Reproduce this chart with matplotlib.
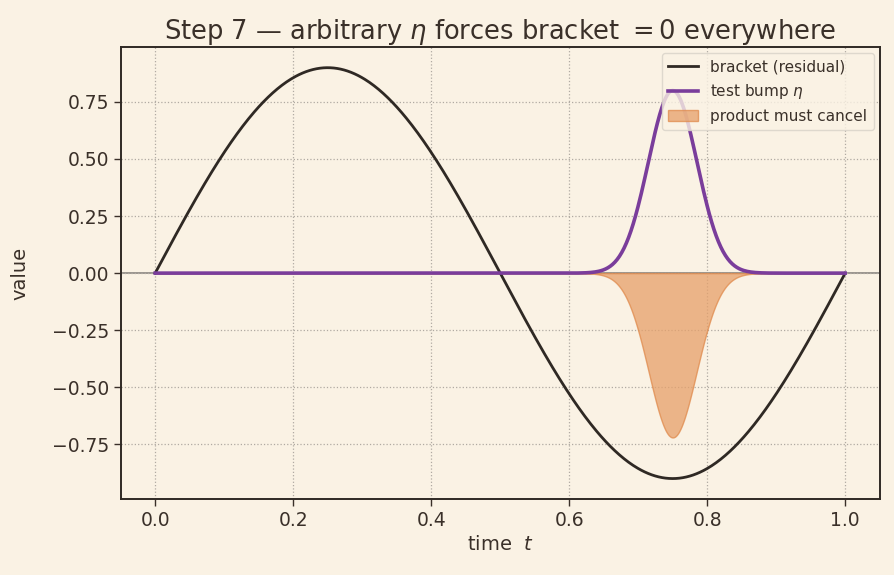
import matplotlib
matplotlib.use("Agg")
import matplotlib.pyplot as plt
import numpy as np

# values
t_start, t_end = 0.0, 1.0
bracket_amp = 0.9        # peak of the residual (sine, one period)
bump_height = 0.8        # peak of the test bump
bump_center = 0.75
bump_width = 0.05        # 1/e half width
x_ticks = [0.0, 0.2, 0.4, 0.6, 0.8, 1.0]
y_ticks = [-0.75, -0.5, -0.25, 0.0, 0.25, 0.5, 0.75]

bg = "#faf2e4"
ink = "#3a3029"

plt.rcParams['font.family'] = ['DejaVu Sans']
plt.rcParams['text.color'] = ink
plt.rcParams['axes.labelcolor'] = ink
plt.rcParams['xtick.color'] = ink
plt.rcParams['ytick.color'] = ink

t = np.linspace(t_start, t_end, 600)
bracket = bracket_amp * np.sin(2 * np.pi * t)
eta = bump_height * np.exp(-((t - bump_center) / bump_width) ** 2)
product = bracket * eta

fig, ax = plt.subplots(figsize=(8.94, 5.75), dpi=100)
fig.patch.set_facecolor(bg)
ax.set_facecolor(bg)

ax.axhline(0, color="#8a8580", lw=1.2, zorder=1)
ax.plot(t, bracket, color="#2f2924", lw=2, label="bracket (residual)", zorder=3)
ax.plot(t, eta, color="#7a3d9b", lw=2.6, label=r"test bump $\eta$", zorder=4)
ax.fill_between(t, 0, product, color="#e6a06a", alpha=0.75, edgecolor="#e08a4c",
                lw=1, label="product must cancel", zorder=2)

ax.set_xticks(x_ticks)
ax.set_yticks(y_ticks)
ax.tick_params(labelsize=13.5, length=5, width=1)
ax.grid(True, ls=":", color="#b0aaa2", lw=0.9)
for s in ax.spines.values():
    s.set_color("#2f2924")
    s.set_linewidth(1.4)

ax.set_xlabel(r"time  $t$", fontsize=14)
ax.set_ylabel("value", fontsize=14, labelpad=16)
ax.set_title(r"Step 7 — arbitrary $\eta$ forces bracket $=0$ everywhere", fontsize=18.5)

leg = ax.legend(loc="upper right", fontsize=11, facecolor=bg, framealpha=0.8,
                edgecolor="#d8d2c8", borderaxespad=0.4)

fig.subplots_adjust(left=0.135, right=0.984, top=0.918, bottom=0.132)
fig.savefig("out.png", facecolor=bg)
